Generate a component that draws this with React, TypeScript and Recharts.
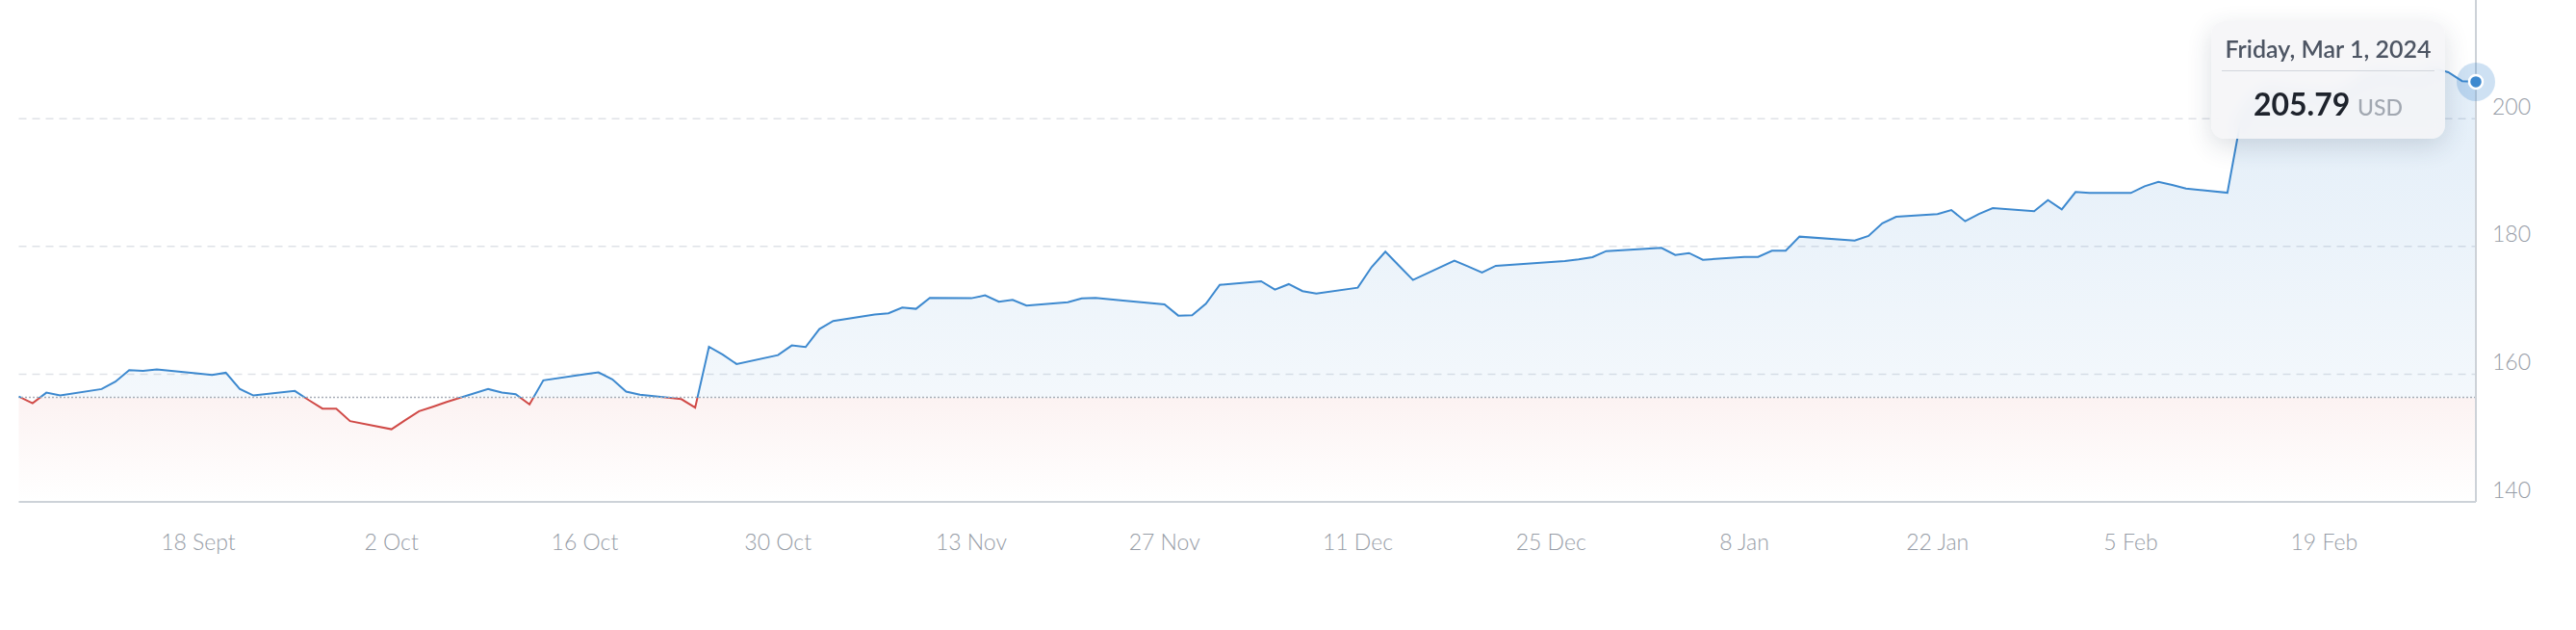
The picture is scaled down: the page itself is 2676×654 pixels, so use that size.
import React from 'react';
import { AreaChart, Area, XAxis, YAxis, CartesianGrid, Tooltip, ReferenceLine } from 'recharts';

// trading days, Sep 5 2023 -> Mar 1 2024
const dates = [
  '2023-09-05', '2023-09-06', '2023-09-07', '2023-09-08', '2023-09-11', '2023-09-12', '2023-09-13', '2023-09-14', '2023-09-15',
  '2023-09-18', '2023-09-19', '2023-09-20', '2023-09-21', '2023-09-22', '2023-09-25', '2023-09-26', '2023-09-27', '2023-09-28', '2023-09-29',
  '2023-10-02', '2023-10-03', '2023-10-04', '2023-10-05', '2023-10-06', '2023-10-09', '2023-10-10', '2023-10-11', '2023-10-12', '2023-10-13',
  '2023-10-16', '2023-10-17', '2023-10-18', '2023-10-19', '2023-10-20', '2023-10-23', '2023-10-24', '2023-10-25', '2023-10-26', '2023-10-27',
  '2023-10-30', '2023-10-31', '2023-11-01', '2023-11-02', '2023-11-03', '2023-11-06', '2023-11-07', '2023-11-08', '2023-11-09', '2023-11-10',
  '2023-11-13', '2023-11-14', '2023-11-15', '2023-11-16', '2023-11-17', '2023-11-20', '2023-11-21', '2023-11-22', '2023-11-24',
  '2023-11-27', '2023-11-28', '2023-11-29', '2023-11-30', '2023-12-01', '2023-12-04', '2023-12-05', '2023-12-06', '2023-12-07', '2023-12-08',
  '2023-12-11', '2023-12-12', '2023-12-13', '2023-12-14', '2023-12-15', '2023-12-18', '2023-12-19', '2023-12-20', '2023-12-21', '2023-12-22',
  '2023-12-26', '2023-12-27', '2023-12-28', '2023-12-29', '2024-01-02', '2024-01-03', '2024-01-04', '2024-01-05',
  '2024-01-08', '2024-01-09', '2024-01-10', '2024-01-11', '2024-01-12', '2024-01-16', '2024-01-17', '2024-01-18', '2024-01-19',
  '2024-01-22', '2024-01-23', '2024-01-24', '2024-01-25', '2024-01-26', '2024-01-29', '2024-01-30', '2024-01-31', '2024-02-01', '2024-02-02',
  '2024-02-05', '2024-02-06', '2024-02-07', '2024-02-08', '2024-02-09', '2024-02-12', '2024-02-13', '2024-02-14', '2024-02-15', '2024-02-16',
  '2024-02-20', '2024-02-21', '2024-02-22', '2024-02-23', '2024-02-26', '2024-02-27', '2024-02-28', '2024-02-29', '2024-03-01',
];

const prices = [
  156.5, 155.45, 157.11, 156.66, 157.67, 158.83, 160.64, 160.53, 160.73,
  160.1, 159.88, 160.23, 157.71, 156.66, 157.37, 155.95, 154.61, 154.61, 152.65,
  151.38, 152.8, 154.2, 154.9, 155.65, 157.67, 157.11, 156.86, 155.26, 159.03,
  160.0, 160.28, 159.18, 157.27, 156.77, 156.1, 154.76, 164.3, 163.05, 161.59,
  162.99, 164.5, 164.25, 167.06, 168.33, 169.33, 169.53, 170.44, 170.23, 171.94,
  171.89, 172.34, 171.34, 171.64, 170.74, 171.28, 171.88, 171.94, 171.54,
  170.93, 169.17, 169.23, 171.04, 174.0, 174.55, 173.24, 174.1, 173.0, 172.64,
  173.54, 176.77, 179.18, 176.97, 174.75, 177.77, 176.86, 175.91, 176.97, 177.12,
  177.72, 177.97, 178.32, 179.27, 179.78, 178.67, 178.97, 177.92,
  178.37, 178.37, 179.33, 179.33, 181.54, 180.93, 181.64, 183.64, 184.65,
  185.06, 185.71, 183.95, 185.1, 186.0, 185.51, 187.26, 185.81, 188.53, 188.38,
  188.38, 189.43, 190.13, 189.63, 189.07, 188.42, 200.2, 203.4, 204.7, 204.1,
  203.5, 204.8, 206.5, 207.1, 206.3, 207.8, 207.3, 205.9, 205.79,
];

// previous close used as the baseline
const baseline = 156.36;

const tickDates = [
  '2023-09-18', '2023-10-02', '2023-10-16', '2023-10-30', '2023-11-13', '2023-11-27',
  '2023-12-11', '2023-12-25', '2024-01-08', '2024-01-22', '2024-02-05', '2024-02-19',
];
const tickLabels = ['18 Sept', '2 Oct', '16 Oct', '30 Oct', '13 Nov', '27 Nov', '11 Dec', '25 Dec', '8 Jan', '22 Jan', '5 Feb', '19 Feb'];
const yTicks = [140, 160, 180, 200];
const gridValues = [160, 180, 200];

const toTime = (d: string) => Date.parse(d + 'T00:00:00Z');
const data = dates.map((d, i) => ({ t: toTime(d), price: prices[i] }));
const xTicks = tickDates.map(toTime);

const maxP = Math.max(...prices);
const minP = Math.min(...prices);
// where the baseline falls inside the line / area bounding boxes
const lineSplit = (maxP - baseline) / (maxP - minP);
const fillSplit = (maxP - baseline) / (maxP - yTicks[0]);

const BLUE = '#3d89cf';
const RED = '#d04a47';
const LABEL = '#969ca6';

function XTick({ x, y, payload }: any) {
  const i = xTicks.indexOf(payload.value);
  return (
    <text x={x} y={y + 50} textAnchor="middle" fill={LABEL} fontSize={23} fontWeight={300} fontFamily="Lato">
      {tickLabels[i]}
    </text>
  );
}

function YTick({ x, y, payload }: any) {
  return (
    <text x={x + 17} y={y - 4.5} textAnchor="start" fill={LABEL} fontSize={23} fontWeight={300} fontFamily="Lato">
      {payload.value}
    </text>
  );
}

function ActiveDot({ cx, cy }: any) {
  return (
    <g>
      <circle cx={cx} cy={cy} r={20} fill={BLUE} fillOpacity={0.25} />
      <circle cx={cx} cy={cy} r={7} fill={BLUE} stroke="#fff" strokeWidth={2.5} />
    </g>
  );
}

function PriceTip({ active, payload }: any) {
  if (!active || !payload || !payload.length) return null;
  const p = payload[0].payload;
  const label = new Date(p.t).toLocaleDateString('en-US', {
    weekday: 'long', month: 'short', day: 'numeric', year: 'numeric', timeZone: 'UTC',
  });
  return (
    <div
      style={{
        width: 243,
        height: 122,
        boxSizing: 'border-box',
        padding: '13px 11px 0',
        borderRadius: 14,
        background: 'rgba(244,245,247,0.86)',
        backdropFilter: 'blur(8px)',
        boxShadow: '0 8px 26px rgba(40,55,80,0.16)',
        fontFamily: 'Lato',
        textAlign: 'center',
        whiteSpace: 'nowrap',
      }}
    >
      <div style={{ fontSize: 25, lineHeight: '30px', fontWeight: 600, color: '#4d5563', paddingBottom: 8, borderBottom: '1.5px solid #d2d6dc' }}>
        {label}
      </div>
      <div style={{ marginTop: 15, fontSize: 32, lineHeight: '38px', fontWeight: 700, color: '#1e232c' }}>
        {p.price.toFixed(2)} <span style={{ fontSize: 23, fontWeight: 500, color: '#a2a8b1' }}>USD</span>
      </div>
    </div>
  );
}

export default function App() {
  return (
    <div style={{ position: 'absolute', left: 0, top: 0, width: 2676, height: 654, background: '#fff' }}>
      <AreaChart width={2676} height={654} data={data} margin={{ top: 0, right: 0, bottom: 0, left: 19.5 }}>
        <defs>
          <linearGradient id="lineGrad" x1="0" y1="0" x2="0" y2="1">
            <stop offset={lineSplit} stopColor={BLUE} />
            <stop offset={lineSplit} stopColor={RED} />
          </linearGradient>
          <linearGradient id="fillGrad" x1="0" y1="0" x2="0" y2="1">
            <stop offset={0} stopColor={BLUE} stopOpacity={0.15} />
            <stop offset={fillSplit} stopColor={BLUE} stopOpacity={0.06} />
            <stop offset={fillSplit} stopColor={RED} stopOpacity={0.07} />
            <stop offset={1} stopColor={RED} stopOpacity={0} />
          </linearGradient>
        </defs>

        {/* dashed horizontal grid */}
        <CartesianGrid vertical={false} horizontalValues={gridValues} stroke="#dfe2e7" strokeDasharray="8 6" strokeWidth={1.5} />

        <XAxis
          dataKey="t"
          type="number"
          domain={[data[0].t, data[data.length - 1].t]}
          ticks={xTicks}
          interval={0}
          tick={<XTick />}
          tickLine={false}
          tickSize={0}
          tickMargin={0}
          axisLine={{ stroke: '#cdd2d8', strokeWidth: 2 }}
          height={133}
        />
        <YAxis
          orientation="right"
          domain={[140, 218.6]}
          ticks={yTicks}
          tick={<YTick />}
          tickLine={false}
          tickSize={0}
          tickMargin={0}
          axisLine={{ stroke: '#cdd2d8', strokeWidth: 2 }}
          width={104}
        />

        <Area
          type="linear"
          dataKey="price"
          stroke="url(#lineGrad)"
          strokeWidth={2}
          fill="url(#fillGrad)"
          fillOpacity={1}
          dot={false}
          activeDot={<ActiveDot />}
          isAnimationActive={false}
        />

        {/* dotted baseline (previous close) */}
        <ReferenceLine y={baseline} stroke="#a9aeb8" strokeDasharray="2 2" strokeWidth={1.5} />

        <Tooltip
          active
          defaultIndex={prices.length - 1}
          cursor={false}
          position={{ x: 2297, y: 22 }}
          content={<PriceTip />}
          isAnimationActive={false}
          wrapperStyle={{ outline: 'none' }}
        />
      </AreaChart>
    </div>
  );
}
